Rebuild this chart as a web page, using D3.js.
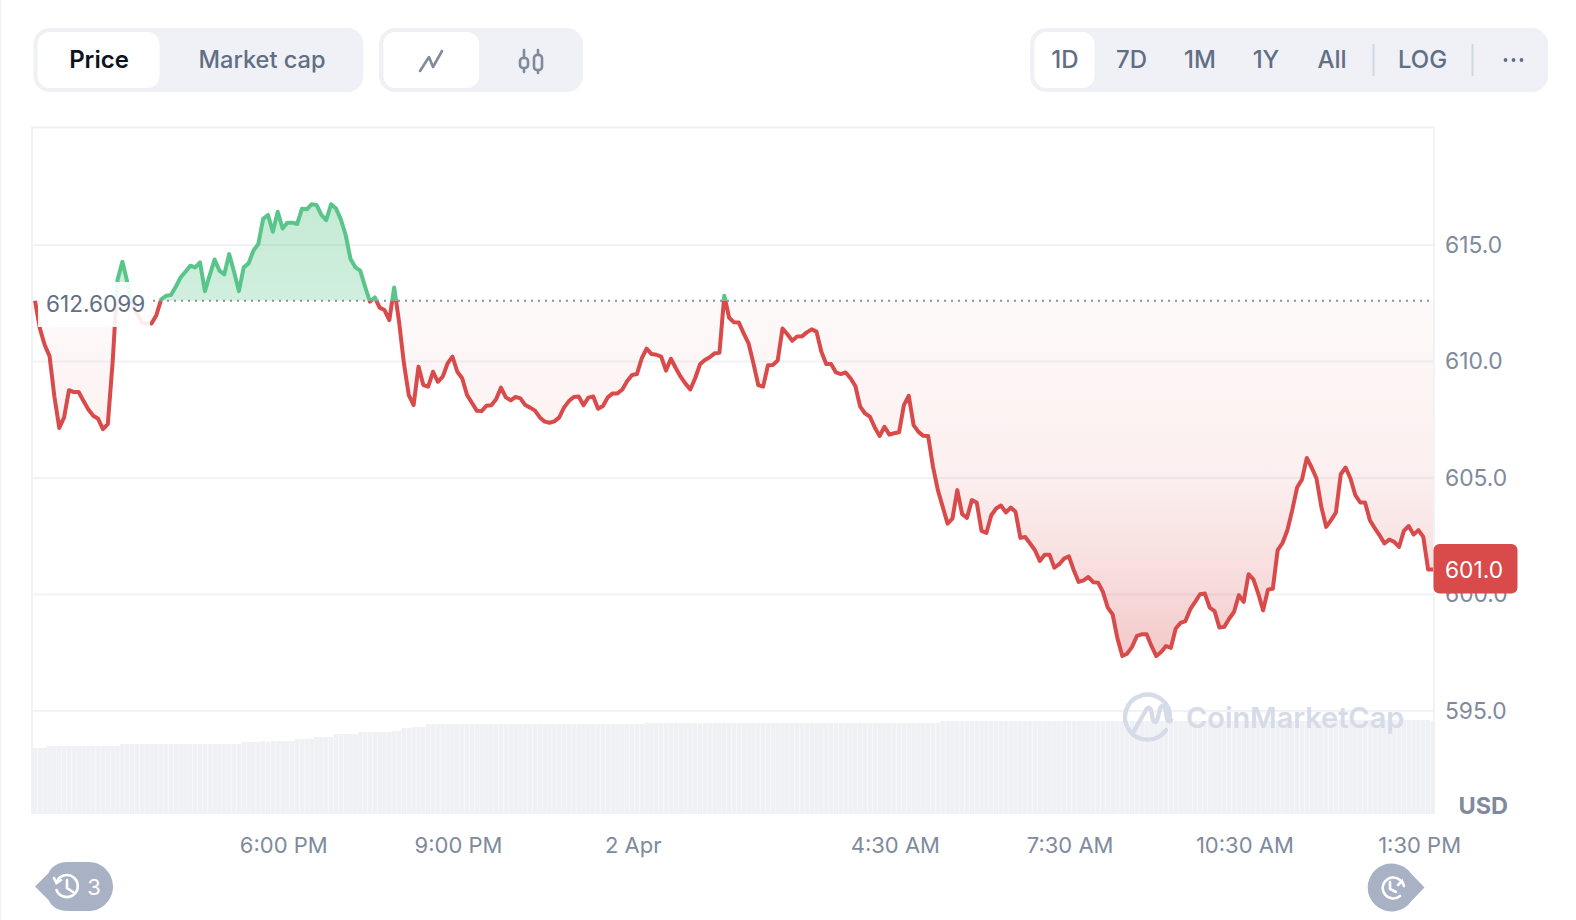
<!DOCTYPE html>
<html><head><meta charset="utf-8">
<script src="https://cdn.jsdelivr.net/npm/d3@7"></script>
<style>html,body{margin:0;padding:0;background:#fff}svg{display:block;font-family:Inter,sans-serif}</style>
</head><body><svg id="c" width="1576" height="920"></svg>
<script>
const baselinePrice = 612.6099;
const lastPriceLabel = "601.0";
const baselineLabel = "612.6099";
const unitLabel = "USD";
const yTicks = [595, 600, 605, 610, 615];
const xTickTimes = [[1,18,0],[1,21,0],[2,0,0],[2,4,30],[2,7,30],[2,10,30],[2,13,30]];
const xTickLabels = ["6:00 PM","9:00 PM","2 Apr","4:30 AM","7:30 AM","10:30 AM","1:30 PM"];
const modeTabs = ["Price","Market cap"];
const rangeTabs = ["1D","7D","1M","1Y","All","LOG"];
const prices = [
612.61,611.42,610.71,610.23,608.49,607.15,607.60,608.77,608.69,608.69,
608.30,607.94,607.67,607.54,607.10,607.31,609.99,613.50,614.28,613.42,
612.57,612.06,611.66,611.63,611.63,611.99,612.67,612.82,612.85,613.21,
613.61,613.85,614.11,614.04,614.25,613.02,613.71,614.38,613.90,613.74,
614.61,613.85,613.02,614.04,614.21,614.76,615.04,616.12,616.29,615.57,
616.43,615.71,615.96,615.96,615.90,616.56,616.53,616.75,616.72,616.29,
616.07,616.75,616.57,616.10,615.43,614.40,614.04,613.90,613.21,612.57,
612.75,612.31,612.21,611.78,613.18,611.71,609.92,608.56,608.13,609.78,
608.99,608.92,609.56,609.13,609.35,609.92,610.21,609.56,609.28,608.56,
608.23,607.89,607.87,608.10,608.12,608.38,608.88,608.46,608.33,608.48,
608.42,608.13,608.02,607.89,607.60,607.42,607.37,607.43,607.60,608.03,
608.30,608.48,608.50,608.12,608.45,608.50,607.97,608.09,608.46,608.63,
608.63,608.80,609.16,609.42,609.46,610.14,610.55,610.32,610.29,610.21,
609.61,610.12,609.72,609.35,609.05,608.80,609.28,609.88,610.06,610.18,
610.35,610.37,612.82,611.88,611.68,611.67,611.21,610.78,609.92,608.99,
608.92,609.84,609.85,610.04,611.42,611.17,610.89,611.07,611.08,611.25,
611.38,611.28,610.42,609.89,609.89,609.53,609.46,609.53,609.28,608.95,
608.06,607.77,607.63,607.17,606.80,607.20,606.86,606.92,606.96,608.13,
608.53,607.27,606.98,606.81,606.80,605.48,604.48,603.76,603.04,603.26,
604.48,603.45,603.29,604.05,603.95,602.73,602.64,603.40,603.69,603.82,
603.52,603.73,603.55,602.43,602.47,602.19,601.90,601.44,601.71,601.71,
601.15,601.30,601.54,601.64,601.04,600.54,600.61,600.75,600.53,600.51,
600.11,599.44,599.15,598.11,597.36,597.46,597.75,598.22,598.29,
598.29,597.79,597.36,597.53,597.79,597.71,598.54,598.78,598.86,599.37,
599.68,600.01,600.04,599.44,599.29,598.58,598.61,598.96,599.25,599.97,
599.68,600.87,600.65,600.04,599.32,600.21,600.25,601.90,602.21,602.76,
603.62,604.59,604.93,605.86,605.45,604.98,603.76,602.90,603.19,603.52,
605.16,605.45,604.98,604.26,603.95,603.95,603.19,602.85,602.54,602.19,602.36,
602.26,602.04,602.73,602.94,602.57,602.76,602.47,601.07,601.07];
const volumes = [
66,66,66,68,68,68,68,68,68,68,68,68,68,68,68,68,68,68,70,70,
70,70,70,70,70,70,70,70,70,70,70,70,70,70,70,70,70,70,70,70,
70,70,70,72,72,72,72,73,72,73,73,73,73,73,75,75,75,75,77,77,
77,77,80,80,80,80,80,82,82,82,82,82,82,82,83,83,86,86,87,87,
87,90,90,90,90,90,90,90,90,90,90,90,90,90,90,90,90,90,90,90,
90,90,90,90,90,90,90,90,90,90,90,90,90,90,90,90,90,90,90,90,
90,90,90,90,90,90,91,91,91,91,91,91,91,91,91,91,91,91,91,91,
91,91,91,91,91,91,91,91,91,91,91,91,91,91,91,91,91,91,91,91,
91,91,91,91,91,91,91,91,91,91,91,91,91,91,91,91,91,91,91,91,
91,91,91,91,91,91,91,93,93,93,93,93,93,93,93,93,93,93,93,93,
93,93,93,93,93,93,93,93,93,93,93,93,93,93,93,93,93,93,93,93,
93,93,93,93,93,93,93,93,93,93,93,93,93,93,93,93,93,93,93,93,
93,93,93,93,93,93,93,93,93,93,93,93,93,93,93,93,93,93,93,93,
93,93,93,93,93,93,93,93,94,94,94,94,94,94,94,94,94,94,94,94,
94,94,94,94,94,94,94,94,93];

const svg = d3.select("#c");
const GRID="#f1f2f5", PANEL="#f0f1f6", AXIS="#808a9d", SLATE="#616e85", RED="#d94a4b", GREEN="#5ac58a", PIN="#a9b2c5";
const start = new Date(2024,3,1,13,44,20);
const times = prices.map((_,i)=>new Date(+start + i*5*60000));
const x = d3.scaleTime().domain([times[0],times[times.length-1]]).range([35,1433]);
const y = d3.scaleLinear().domain([595,615]).range([711,245]);
const v = d3.scaleLinear().domain([0,100]).range([814,714]);
const by = y(baselinePrice);
const rows = prices.map((p,i)=>({t:times[i],p,v:volumes[i]}));

const defs = svg.append("defs");
defs.append("clipPath").attr("id","above").append("rect").attr("x",0).attr("y",0).attr("width",1576).attr("height",by);
defs.append("clipPath").attr("id","below").append("rect").attr("x",0).attr("y",by).attr("width",1576).attr("height",920-by);
defs.append("clipPath").attr("id","plot").append("rect").attr("x",31).attr("y",120).attr("width",1404).attr("height",700);
const gr = defs.append("linearGradient").attr("id","redG").attr("gradientUnits","userSpaceOnUse").attr("x1",0).attr("x2",0).attr("y1",by).attr("y2",y(597.3));
[[0,.03],[.5,.09],[.8,.2],[1,.3]].forEach(s=>gr.append("stop").attr("offset",s[0]).attr("stop-color",RED).attr("stop-opacity",s[1]));
const gg = defs.append("linearGradient").attr("id","greenG").attr("gradientUnits","userSpaceOnUse").attr("x1",0).attr("x2",0).attr("y1",y(616.8)).attr("y2",by);
[[0,.36],[1,.28]].forEach(s=>gg.append("stop").attr("offset",s[0]).attr("stop-color",GREEN).attr("stop-opacity",s[1]));

// page edge + plot frame
svg.append("rect").attr("x",0).attr("y",0).attr("width",1.5).attr("height",920).attr("fill","#f1f3f7");
svg.append("path").attr("d","M32,814V127.5H1434V814").attr("fill","none").attr("stroke",GRID).attr("stroke-width",2);

// grid + y axis
const yAxis = d3.axisRight(y).tickValues(yTicks).tickFormat(d3.format(".1f")).tickSize(0).tickPadding(0);
const gy = svg.append("g").attr("transform","translate(1445,0)").call(yAxis);
gy.select(".domain").remove();
gy.selectAll("text").attr("fill",AXIS).attr("font-size",22.8).attr("font-family","Inter").attr("x",0);
svg.append("g").selectAll("line").data(yTicks).join("line")
 .attr("x1",32).attr("x2",1434).attr("y1",d=>y(d)).attr("y2",d=>y(d)).attr("stroke",GRID).attr("stroke-width",2);

// volume
const bw = 4.6;
svg.append("g").attr("clip-path","url(#plot)").selectAll("rect").data(rows).join("rect")
 .attr("x",d=>x(d.t)-bw/2).attr("y",d=>v(d.v)).attr("width",bw).attr("height",d=>814-v(d.v)).attr("fill","#f0f1f5");

// watermark
const wm = svg.append("g").attr("fill","none").attr("stroke","#d5dbe8").attr("stroke-width",4.4).attr("stroke-linecap","round").attr("stroke-linejoin","round");
wm.append("path").attr("d","M1166,730A22.5,22.5,0,1,1,1170,718");
wm.append("path").attr("d","M1134,731L1145,712C1148,705 1151,707 1152,715C1153,723 1156,725 1158,717L1160,709C1162,703 1166,707 1166,713C1167,721 1169,723 1171,720");
svg.append("text").attr("x",1186).attr("y",728).attr("font-size",28.9).attr("font-weight",600).attr("fill","#d5dbe8").text("CoinMarketCap");

// areas and lines
const areaFn = d3.area().x(d=>x(d.t)).y0(by).y1(d=>y(d.p));
const lineFn = d3.line().x(d=>x(d.t)).y(d=>y(d.p));
svg.append("path").datum(rows).attr("d",areaFn).attr("fill","url(#greenG)").attr("clip-path","url(#above)");
svg.append("path").datum(rows).attr("d",areaFn).attr("fill","url(#redG)").attr("clip-path","url(#below)");
svg.append("path").datum(rows).attr("d",lineFn).attr("fill","none").attr("stroke",GREEN).attr("stroke-width",4).attr("stroke-linejoin","round").attr("clip-path","url(#above)");
svg.append("path").datum(rows).attr("d",lineFn).attr("fill","none").attr("stroke",RED).attr("stroke-width",4).attr("stroke-linejoin","round").attr("clip-path","url(#below)");

// baseline
svg.append("line").attr("x1",153).attr("x2",1431).attr("y1",by).attr("y2",by).attr("stroke","#8b9099").attr("stroke-width",2).attr("stroke-dasharray","2 5");
svg.append("rect").attr("x",38).attr("y",282).attr("width",112).attr("height",45).attr("fill","#fff").attr("opacity",.9);
svg.append("text").attr("x",46).attr("y",312).attr("font-size",22.6).attr("fill",SLATE).text(baselineLabel);

// last price badge
svg.append("rect").attr("x",1433.5).attr("y",544).attr("width",84).attr("height",49.5).attr("rx",6).attr("fill",RED);
svg.append("text").attr("x",1474).attr("y",578).attr("text-anchor","middle").attr("font-size",22.8).attr("fill","#fff").text(lastPriceLabel);
svg.append("text").attr("x",1508).attr("y",814).attr("text-anchor","end").attr("font-size",23.5).attr("font-weight",700).attr("fill",AXIS).text(unitLabel);

// x axis
const tickDates = xTickTimes.map(a=>new Date(2024,3,a[0],a[1],a[2]));
const xAxis = d3.axisBottom(x).tickValues(tickDates).tickFormat((d,i)=>xTickLabels[i]).tickSize(0).tickPadding(0);
const gx = svg.append("g").attr("transform","translate(0,853)").call(xAxis);
gx.select(".domain").remove();
gx.selectAll("text").attr("fill",AXIS).attr("font-size",22).attr("font-family","Inter").attr("dy",0).attr("y",0);

// toolbar
function panel(x0,x1){svg.append("rect").attr("x",x0).attr("y",28).attr("width",x1-x0).attr("height",64).attr("rx",16).attr("fill",PANEL);}
function chip(x0,x1){svg.append("rect").attr("x",x0).attr("y",32).attr("width",x1-x0).attr("height",56).attr("rx",12).attr("fill","#fff");}
function label(t,cx,fill,w,fs){svg.append("text").attr("x",cx).attr("y",68).attr("text-anchor","middle").attr("font-size",fs||24).attr("font-weight",w||500).attr("fill",fill).text(t);}
panel(33.5,363.5); chip(37.5,159.5);
label(modeTabs[0],99,"#0d1421",600); label(modeTabs[1],262,SLATE,500,23.6);
panel(379,583); chip(383.5,479);
svg.append("path").attr("d","M420,71L429,57L433,67L442,51").attr("fill","none").attr("stroke",AXIS).attr("stroke-width",2.6).attr("stroke-linecap","round").attr("stroke-linejoin","round");
const candles = svg.append("g").attr("fill","none").attr("stroke",AXIS).attr("stroke-width",2.6).attr("stroke-linecap","round");
candles.append("path").attr("d","M524,50V58M524,68V72M538,50V55M538,70V73");
candles.append("rect").attr("x",520).attr("y",58).attr("width",8).attr("height",10).attr("rx",3);
candles.append("rect").attr("x",534).attr("y",55).attr("width",8).attr("height",15).attr("rx",3);
panel(1030,1548); chip(1034.5,1094.5);
[1065,1131.5,1200,1266,1332,1422.5].forEach((cx,i)=>label(rangeTabs[i],cx,SLATE,500));
[1373.5,1472.5].forEach(sx=>svg.append("line").attr("x1",sx).attr("x2",sx).attr("y1",44).attr("y2",76).attr("stroke","#cfd6e4").attr("stroke-width",2));
[1505.5,1513.5,1521.5].forEach(cx=>svg.append("circle").attr("cx",cx).attr("cy",60).attr("r",1.9).attr("fill",SLATE));

// bottom pins
svg.append("path").attr("d","M35,886.5L48.5,873C52,866 58,862 68,862H89C102,862 113,873 113,886.5C113,900 102,911 89,911H68C58,911 52,907 48.5,900Z").attr("fill",PIN);
const c1 = svg.append("g").attr("fill","none").attr("stroke","#fff").attr("stroke-width",2.6).attr("stroke-linecap","round");
c1.append("path").attr("d","M57,881A11,11,0,1,1,56.5,890");
c1.append("path").attr("d","M67,880V888L73,892");
c1.append("path").attr("d","M54,878L56.5,883L61,880");
svg.append("text").attr("x",94).attr("y",895).attr("text-anchor","middle").attr("font-size",22).attr("fill","#fff").text("3");
svg.append("path").attr("d","M1424.5,887.5L1411.5,874A24,24,0,1,0,1411.5,901Z").attr("fill",PIN);
const c2 = svg.append("g").attr("fill","none").attr("stroke","#fff").attr("stroke-width",2.6).attr("stroke-linecap","round");
c2.append("path").attr("d","M1400,896A10.5,10.5,0,1,1,1400,880");
c2.append("path").attr("d","M1390,882V889L1396,892");
c2.append("path").attr("d","M1398,885L1402,881L1404,886");
</script></body></html>
